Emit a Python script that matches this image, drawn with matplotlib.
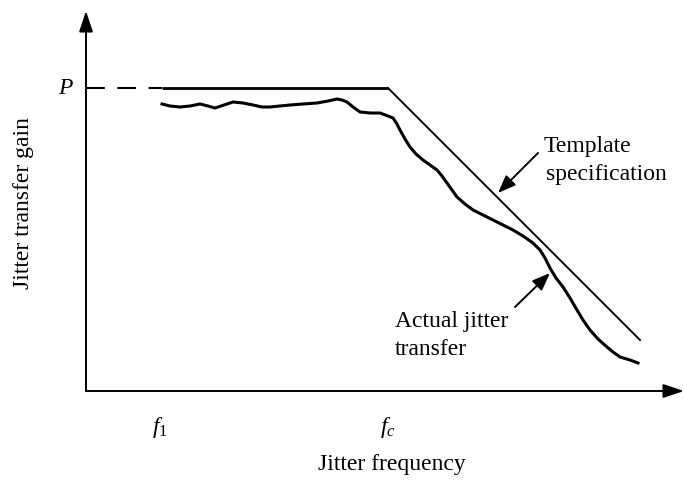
import matplotlib
matplotlib.use('Agg')
import matplotlib.pyplot as plt

plt.rcParams['font.family'] = ['Liberation Serif', 'DejaVu Serif']
plt.rcParams['mathtext.fontset'] = 'custom'
plt.rcParams['mathtext.rm'] = 'Liberation Serif'
plt.rcParams['mathtext.it'] = 'Liberation Serif:italic'

# drawing works in image pixel units (y grows downwards)
origin_x, origin_y = 86, 391
p_level = 88
f1_x, fc_x = 162, 388

# template: flat at P between f1 and fc, then rolling off
template_x = [fc_x, 640]
template_y = [p_level, 340]

# actual jitter transfer
actual_x = [162, 170, 180, 190, 200, 208, 215, 224, 233, 243, 253, 262, 270,
            280, 290, 303, 317, 328, 337, 342, 347, 353, 360, 370, 380, 388,
            393, 397, 400, 405, 410, 416, 423, 430, 437, 442, 447, 452, 457,
            465, 473, 483, 493, 503, 513, 523, 533, 540, 545, 550, 556, 563,
            570, 577, 583, 590, 598, 607, 613, 620, 630, 638]
actual_y = [104, 106, 107, 106, 104, 106, 108, 105, 102, 103, 105, 107, 107,
            106, 105, 104, 103, 101, 99, 100, 102, 107, 112, 113, 113, 116,
            118, 124, 130, 139, 147, 154, 160, 165, 170, 176, 183, 190, 197,
            204, 210, 215, 220, 225, 230, 236, 243, 250, 258, 268, 278, 287,
            298, 310, 320, 330, 339, 347, 352, 357, 360, 363]

fig = plt.figure(figsize=(6.84, 4.82), dpi=100)
ax = fig.add_axes([0, 0, 1, 1])
ax.set_xlim(0, 684)
ax.set_ylim(482, 0)
ax.axis('off')

axis_arrow = dict(arrowstyle='-|>,head_length=0.9,head_width=0.3',
                  lw=1.4, color='black', shrinkA=0, shrinkB=0,
                  mutation_scale=14)
ax.annotate('', xy=(origin_x, 11), xytext=(origin_x, origin_y),
            arrowprops=axis_arrow)
ax.annotate('', xy=(684, origin_y), xytext=(origin_x, origin_y),
            arrowprops=axis_arrow)

# P level
ax.plot([origin_x, f1_x], [p_level, p_level], color='black', lw=1.5,
        dashes=(9, 6))
ax.plot([f1_x, fc_x], [p_level, p_level], color='black', lw=2.0,
        solid_capstyle='butt')
ax.plot(template_x, template_y, color='black', lw=1.4)

ax.plot(actual_x, actual_y, color='black', lw=2.2, solid_joinstyle='round')

note_arrow = dict(arrowstyle='-|>,head_length=0.9,head_width=0.35',
                  lw=1.4, color='black', shrinkA=0, shrinkB=0,
                  mutation_scale=12)
ax.annotate('', xy=(498, 193), xytext=(538, 153), arrowprops=note_arrow)
ax.annotate('', xy=(550, 273), xytext=(515, 307), arrowprops=note_arrow)

fs = 17
ax.text(544, 152, 'Template', fontsize=fs, ha='left', va='baseline')
ax.text(546, 180, 'specification', fontsize=fs, ha='left', va='baseline')
ax.text(508, 327, 'Actual jitter', fontsize=fs, ha='right', va='baseline')
ax.text(395, 355, 'transfer', fontsize=fs, ha='left', va='baseline')

ax.text(72, p_level, 'P', fontsize=fs, style='italic', ha='right',
        va='center')
ax.text(f1_x - 2, 433, r'$f_1$', fontsize=fs, ha='center', va='baseline')
ax.text(fc_x, 433, r'$f_c$', fontsize=fs, ha='center', va='baseline')

ax.text(392, 470, 'Jitter frequency', fontsize=fs, ha='center',
        va='baseline')
ax.text(24, 203, 'Jitter transfer gain', fontsize=fs, rotation=90,
        ha='center', va='center')

fig.savefig('out.png', dpi=100)
